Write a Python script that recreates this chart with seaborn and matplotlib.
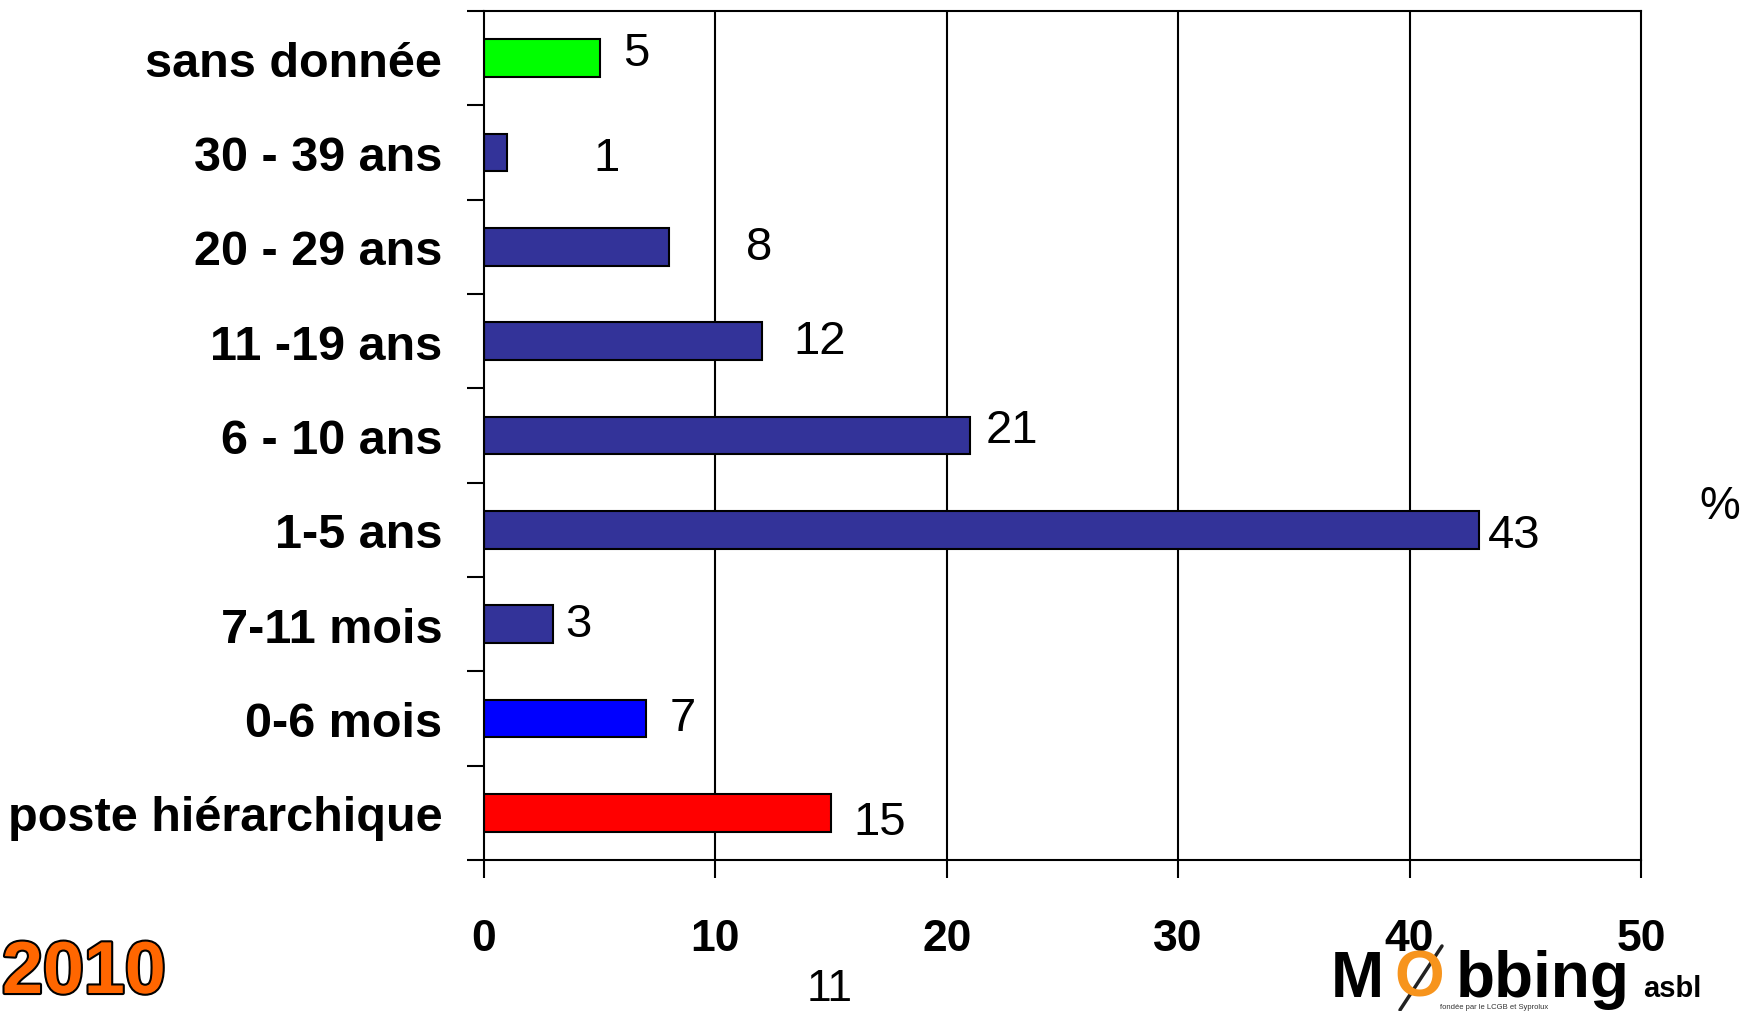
import matplotlib
matplotlib.use("Agg")
import matplotlib.pyplot as plt
import matplotlib.patheffects as pe
from matplotlib.lines import Line2D
import seaborn as sns
import numpy as np

categories = ["sans donnée", "30 - 39 ans", "20 - 29 ans", "11 -19 ans", "6 - 10 ans",
              "1-5 ans", "7-11 mois", "0-6 mois", "poste hiérarchique"]
values = [5, 1, 8, 12, 21, 43, 3, 7, 15]
bar_colors = ["#00FF00", "#333399", "#333399", "#333399", "#333399",
              "#333399", "#333399", "#0000FF", "#FF0000"]
xticks = [0, 10, 20, 30, 40, 50]
# label placement (data units)
label_x = [6.6, 5.3, 11.9, 14.5, 22.8, 44.5, 4.1, 8.6, 17.1]
label_dy = [-0.06, 0.06, 0.0, 0.0, -0.06, 0.05, 0.0, 0.0, 0.1]

sns.set_style("white")
plt.rcParams["font.family"] = ["Liberation Sans", "DejaVu Sans"]
plt.rcParams["text.color"] = "black"
plt.rcParams["xtick.labelcolor"] = "black"
plt.rcParams["ytick.labelcolor"] = "black"

fig = plt.figure(figsize=(17.46, 10.12), dpi=100)
ax = fig.add_axes([484 / 1746, 1 - 861 / 1012, (1641 - 484) / 1746, (861 - 12) / 1012])

sns.barplot(x=values, y=categories, hue=categories, palette=bar_colors, orient="h",
            width=0.4, edgecolor="black", linewidth=1.5, legend=False, ax=ax, saturation=1)

ax.set_xlim(0, 50)
ax.set_ylim(len(categories) - 0.5, -0.5)
ax.set_xticks(xticks)
ax.set_xticklabels([str(t) for t in xticks], fontsize=32, fontweight="bold")
ax.tick_params(axis="x", length=13, width=1.5, pad=29, color="black", direction="out", bottom=True)
ax.set_yticks(range(len(categories)))
ax.set_yticklabels(categories, fontsize=35, fontweight="bold")
ax.set_yticks(np.arange(-0.5, len(categories), 1), minor=True)
ax.tick_params(axis="y", which="major", length=0, pad=30)
ax.tick_params(axis="y", which="minor", length=12, width=1.5, color="black", left=True)
ax.set_xlabel("")
ax.set_ylabel("")

for x in xticks[1:-1]:
    ax.axvline(x, color="black", linewidth=1.5, zorder=0)
for s in ax.spines.values():
    s.set_visible(True)
    s.set_color("black")
    s.set_linewidth(1.5)

for i, v in enumerate(values):
    ax.text(label_x[i], i + label_dy[i], str(v), fontsize=34, ha="center", va="center")

fig.text(1720 / 1746, 1 - 507 / 1012, "%", fontsize=33, ha="center", va="center")
fig.text(830 / 1746, 1 - 990 / 1012, "11", fontsize=32, ha="center", va="center")
fig.text(2 / 1746, 1 - 1009 / 1012, "2010", fontsize=53, fontweight="bold", color="#FF6600",
         ha="left", va="bottom",
         path_effects=[pe.withStroke(linewidth=3, foreground="black")])

# logo
base = 1 - 997 / 1012
fig.text(1331 / 1746, base, "M", fontsize=46, fontweight="bold", ha="left", va="baseline")
fig.text(1394 / 1746, base, "O", fontsize=46, fontweight="bold", color="#F7941D",
         ha="left", va="baseline")
fig.add_artist(Line2D([1400 / 1746, 1442 / 1746], [1 - 1011 / 1012, 1 - 947 / 1012],
                      color="#222222", linewidth=2.5))
fig.text(1456 / 1746, base, "bbing", fontsize=46, fontweight="bold",
         ha="left", va="baseline")
fig.text(1643 / 1746, base, "asbl", fontsize=21, fontweight="bold",
         ha="left", va="baseline")
fig.text(1440 / 1746, 1 - 1011 / 1012, "fondée par le LCGB et Syprolux", fontsize=5.5,
         ha="left", va="bottom", color="#333333")

fig.savefig("out.png", dpi=100)
